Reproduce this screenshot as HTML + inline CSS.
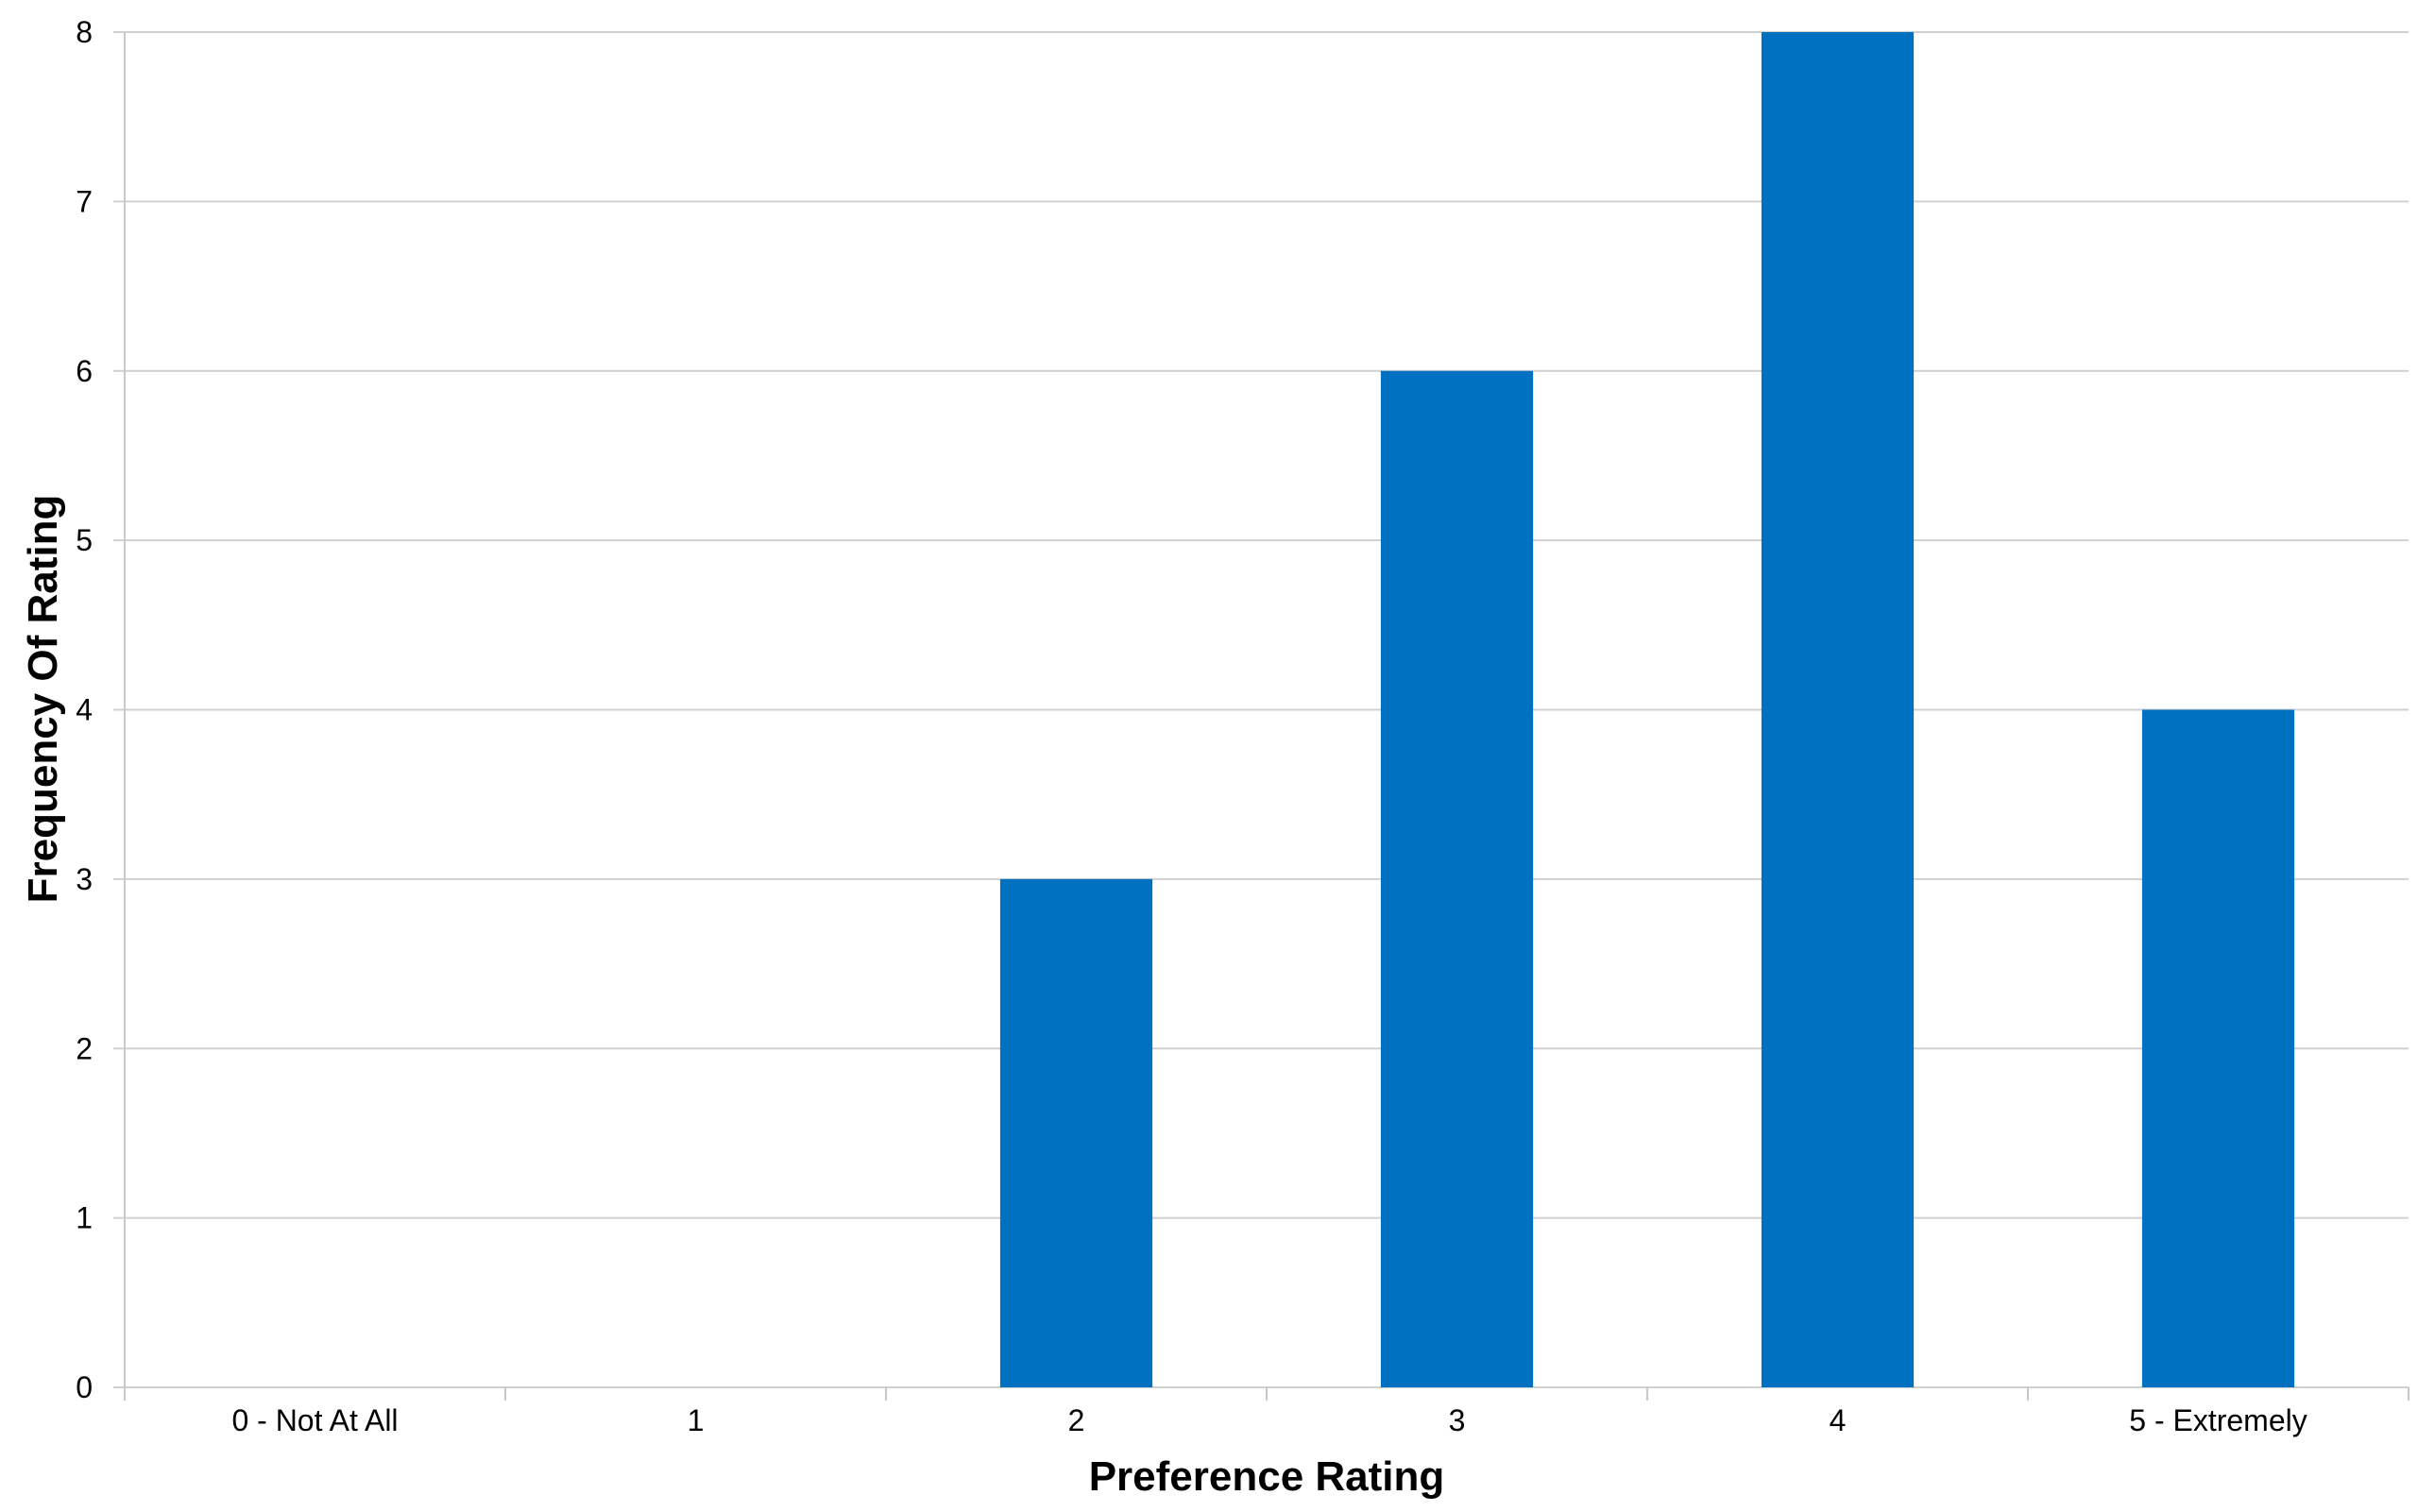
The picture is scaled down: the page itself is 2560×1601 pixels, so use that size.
<!DOCTYPE html>
<html><head><meta charset="utf-8"><style>
html,body{margin:0;padding:0;background:#fff;}
svg{display:block;font-family:"Liberation Sans",sans-serif;}
</style></head><body>
<svg id="chart" width="2560" height="1601" viewBox="0 0 2560 1601" xmlns="http://www.w3.org/2000/svg">
<g id="grid"></g>
<g id="bars"></g>
<g id="axes"></g>
<text x="1341" y="1578" text-anchor="middle" font-size="44" font-weight="bold" fill="#000">Preference Rating</text>
<text transform="translate(60,740) rotate(-90)" text-anchor="middle" font-size="44" font-weight="bold" fill="#000">Frequency Of Rating</text>
</svg>
<script>
const categories = ["0 - Not At All","1","2","3","4","5 - Extremely"];
const values = [0,0,3,6,8,4];
const yTicks = [0,1,2,3,4,5,6,7,8];
const L=132,R=2550,T=34,B=1469,yMax=8;
const NS="http://www.w3.org/2000/svg";
const cw=(R-L)/categories.length;
function y(v){return B-(v/yMax)*(B-T);}
function x(i){return L+cw*i;}
function mk(tag,attrs,parent){const e=document.createElementNS(NS,tag);for(const k in attrs)e.setAttribute(k,attrs[k]);parent.appendChild(e);return e;}
const grid=document.getElementById('grid'),bars=document.getElementById('bars'),axes=document.getElementById('axes');
yTicks.forEach(t=>{
  const l=mk('line',{x1:L-12,x2:R,y1:y(t),y2:y(t),stroke:'#d0d0d0','stroke-width':2},grid);
  
  
  const tx=mk('text',{x:98,y:y(t)+11,'text-anchor':'end','font-size':32,fill:'#000'},axes);
  tx.textContent=t;
  
  
});
const ax=mk('line',{x1:L,x2:L,y1:T,y2:B+14,stroke:'#c8c8c8','stroke-width':2},axes);


for(let i=0;i<=categories.length;i++){
  const tk=mk('line',{x1:x(i),x2:x(i),y1:B,y2:B+14,stroke:'#c8c8c8','stroke-width':2},axes);
  
  
}
categories.forEach((c,i)=>{
  const bw=cw*0.4,cx=x(i)+cw/2;
  if(values[i]>0){
    const r=mk('rect',{x:cx-bw/2,y:y(values[i]),width:bw,height:B-y(values[i]),fill:'#0070c0'},bars);
    
    
  }
  const t=mk('text',{x:cx,y:1515,'text-anchor':'middle','font-size':32,fill:'#000'},axes);
  t.textContent=c;
  
  
});
</script>
</body></html>
